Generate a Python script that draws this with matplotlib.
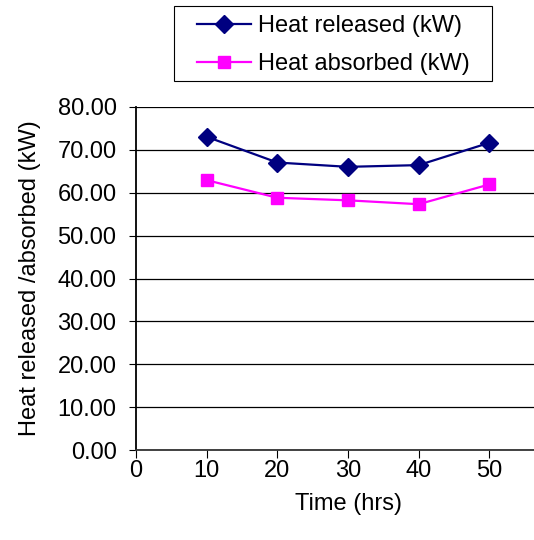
import matplotlib.pyplot as plt
from matplotlib.patches import Rectangle

time_hrs = [10, 20, 30, 40, 50]
heat_released = [73.0, 67.0, 66.0, 66.4, 71.6]
heat_absorbed = [62.9, 58.8, 58.2, 57.3, 61.9]
x_ticks = [0, 10, 20, 30, 40, 50]
y_ticks = [0, 10, 20, 30, 40, 50, 60, 70, 80]

plt.rcParams['font.family'] = ['Liberation Sans', 'DejaVu Sans']

fig = plt.figure(figsize=(5.34, 5.4), dpi=100)
# plot area runs past the right edge like the cropped original
ax = fig.add_axes([0.2547, 0.1661, 0.794, 0.6363])

ax.plot(time_hrs, heat_released, color='#000080', lw=1.6, marker='D', ms=9,
        label='Heat released (kW)')
ax.plot(time_hrs, heat_absorbed, color='#FF00FF', lw=1.6, marker='s', ms=8,
        label='Heat absorbed (kW)')

ax.set_xlim(0, 60)
ax.set_ylim(0, 80)
ax.set_xticks(x_ticks)
ax.set_yticks(y_ticks)
ax.set_yticklabels(['%.2f' % v for v in y_ticks])
ax.grid(axis='y', color='black', lw=0.9)
ax.set_axisbelow(True)

for s in ['top', 'right']:
    ax.spines[s].set_visible(False)
ax.spines['left'].set_linewidth(1.3)
ax.spines['bottom'].set_linewidth(1.3)
ax.spines['bottom'].set_color('#333333')
ax.tick_params(axis='both', labelsize=17, direction='out', color='black')
ax.tick_params(axis='y', length=5, pad=9)
ax.tick_params(axis='x', length=6, pad=1)

ax.set_xlabel('Time (hrs)', fontsize=17, labelpad=8)
ax.set_ylabel('Heat released /absorbed (kW)', fontsize=17, labelpad=12)

# legend box drawn separately so the side padding can be wider than the top/bottom
fig.patches.append(Rectangle((174 / 534, 1 - 81 / 540), 318 / 534, 75 / 540,
                             transform=fig.transFigure, fill=False,
                             ec='black', lw=0.8))
fig.legend(loc='upper left', bbox_to_anchor=(197 / 534, 1 - 15 / 540),
           fontsize=17, frameon=False, borderpad=0, borderaxespad=0,
           handlelength=2.3, handletextpad=0.3, labelspacing=0.67)

fig.savefig('out.png', dpi=100)
